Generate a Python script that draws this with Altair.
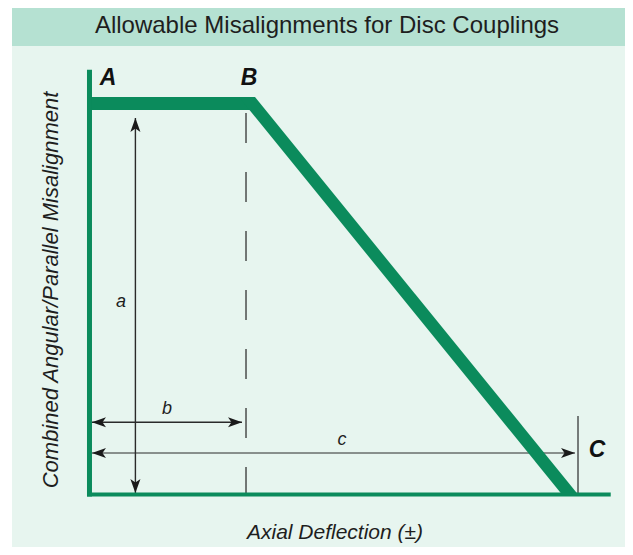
import altair as alt
import pandas as pd

# ---------------- data (diagram units: A = 0, C = 10 on x; base = 0, plateau = 10 on y)
TITLE = "Allowable Misalignments for Disc Couplings"
X_TITLE = "Axial Deflection (±)"
Y_TITLE = "Combined Angular/Parallel Misalignment"

# axis lines
AXIS_X = [0.0]
AXIS_Y_RANGE = [-0.05, 10.86]
BASE_Y = [0.0]
BASE_X_RANGE = [-0.05, 10.67]

# allowable curve A-B (plateau) and B-C (diagonal band)
PLATEAU_X = [-0.05, 3.388]
PLATEAU_Y = [9.834, 10.166]
DIAG_Y = [0.0, 10.166]
DIAG_XL = [9.672, 3.06]
DIAG_XR = [10.0, 3.388]

# dashed line under B
DASH_X = [3.204]
DASH_Y = [9.757, 0.0]

# dimension lines: name, x, x2, y, y2
DIM_NAME = ["a", "b", "c", "C"]
DIM_X = [0.94, 0.051, 0.051, 10.0]
DIM_X2 = [0.94, 3.122, 9.939, 10.0]
DIM_Y = [9.63, 1.847, 1.061, 2.008]
DIM_Y2 = [0.038, 1.847, 1.061, 0.0]
DIM_W = [1.4, 1.4, 1.0, 1.2]

# arrow heads: tip position and direction (deg, clockwise from up)
HEAD_X = [0.94, 0.94, 0.051, 3.122, 0.051, 9.939]
HEAD_Y = [9.63, 0.038, 1.847, 1.847, 1.061, 1.061]
HEAD_ANG = [0, 180, 270, 90, 270, 90]

# point labels
PT_LABEL = ["A", "B", "C"]
PT_X = [0.379, 3.265, 10.39]
PT_Y = [10.65, 10.65, 1.138]

DIM_LABEL = ["a", "b", "c"]
DL_X = [0.645, 1.586, 5.169]
DL_Y = [4.923, 2.187, 1.394]

X_DOMAIN = [-1.668, 10.962]
Y_DOMAIN = [-1.343, 12.442]

W, H = 617, 539
GREEN = "#0b8b5c"
BODY = "#e7f5ef"
BAR = "#b5e1d2"
INK = "#1e1e1e"
FONT = "Liberation Sans"

xs = alt.Scale(domain=X_DOMAIN, nice=False, zero=False)
ys = alt.Scale(domain=Y_DOMAIN, nice=False, zero=False)
one = pd.DataFrame({"k": [0]})

body = alt.Chart(one).mark_rect(color=BODY).encode(
    x=alt.value(4), x2=alt.value(W), y=alt.value(38), y2=alt.value(H))
bar = alt.Chart(one).mark_rect(color=BAR).encode(
    x=alt.value(4), x2=alt.value(W), y=alt.value(0), y2=alt.value(38))
title = alt.Chart(one).mark_text(
    text=TITLE, font=FONT, fontSize=24, color=INK, baseline="middle", align="center"
).encode(x=alt.value(319), y=alt.value(18))

ytitle = alt.Chart(one).mark_text(
    text=Y_TITLE, font=FONT, fontSize=22, fontStyle="italic", color=INK,
    baseline="middle", align="center", angle=270
).encode(x=alt.value(43), y=alt.value(282))
xtitle = alt.Chart(one).mark_text(
    text=X_TITLE, font=FONT, fontSize=21, fontStyle="italic", color=INK,
    baseline="middle", align="center"
).encode(x=alt.value(327), y=alt.value(525))

left_axis = alt.Chart(pd.DataFrame({"x": AXIS_X, "y": [AXIS_Y_RANGE[0]], "y2": [AXIS_Y_RANGE[1]]})).mark_rule(
    color=GREEN, strokeWidth=5, strokeCap="butt"
).encode(x=alt.X("x:Q", scale=xs, axis=None), y=alt.Y("y:Q", scale=ys, axis=None), y2="y2:Q")

base_axis = alt.Chart(pd.DataFrame({"y": BASE_Y, "x": [BASE_X_RANGE[0]], "x2": [BASE_X_RANGE[1]]})).mark_rule(
    color=GREEN, strokeWidth=4, strokeCap="butt"
).encode(x=alt.X("x:Q", scale=xs, axis=None), x2="x2:Q", y=alt.Y("y:Q", scale=ys, axis=None))

plateau = alt.Chart(pd.DataFrame({"x": [PLATEAU_X[0]], "x2": [PLATEAU_X[1]],
                                  "y": [PLATEAU_Y[0]], "y2": [PLATEAU_Y[1]]})).mark_rect(color=GREEN).encode(
    x=alt.X("x:Q", scale=xs, axis=None), x2="x2:Q",
    y=alt.Y("y:Q", scale=ys, axis=None), y2="y2:Q")

diag = alt.Chart(pd.DataFrame({"y": DIAG_Y, "xl": DIAG_XL, "xr": DIAG_XR})).mark_area(
    color=GREEN, orient="horizontal", opacity=1
).encode(x=alt.X("xl:Q", scale=xs, axis=None), x2="xr:Q",
         y=alt.Y("y:Q", scale=ys, axis=None))

dash = alt.Chart(pd.DataFrame({"x": DASH_X, "y": [DASH_Y[0]], "y2": [DASH_Y[1]]})).mark_rule(
    color="#333333", strokeWidth=1.3, strokeDash=[30, 29], strokeCap="butt"
).encode(x=alt.X("x:Q", scale=xs, axis=None), y=alt.Y("y:Q", scale=ys, axis=None), y2="y2:Q")

dims = alt.Chart(pd.DataFrame({"n": DIM_NAME, "x": DIM_X, "x2": DIM_X2,
                               "y": DIM_Y, "y2": DIM_Y2, "w": DIM_W})).mark_rule(
    color="#2a2a2a"
).encode(x=alt.X("x:Q", scale=xs, axis=None), x2="x2:Q",
         y=alt.Y("y:Q", scale=ys, axis=None), y2="y2:Q",
         strokeWidth=alt.StrokeWidth("w:Q", scale=None))

ARROW = "M0,0 L0.72,2 L0,1.5 L-0.72,2 Z"
heads = alt.Chart(pd.DataFrame({"x": HEAD_X, "y": HEAD_Y, "a": HEAD_ANG})).mark_point(
    shape=ARROW, filled=True, size=196, color="#1a1a1a", opacity=1, strokeWidth=0
).encode(x=alt.X("x:Q", scale=xs, axis=None), y=alt.Y("y:Q", scale=ys, axis=None),
         angle=alt.Angle("a:Q", scale=None))

pts = alt.Chart(pd.DataFrame({"t": PT_LABEL, "x": PT_X, "y": PT_Y})).mark_text(
    font=FONT, fontSize=23, fontStyle="italic", fontWeight="bold", color="#111111",
    baseline="middle", align="center"
).encode(x=alt.X("x:Q", scale=xs, axis=None), y=alt.Y("y:Q", scale=ys, axis=None), text="t:N")

dlabels = alt.Chart(pd.DataFrame({"t": DIM_LABEL, "x": DL_X, "y": DL_Y})).mark_text(
    font=FONT, fontSize=18, fontStyle="italic", color=INK, baseline="middle", align="center"
).encode(x=alt.X("x:Q", scale=xs, axis=None), y=alt.Y("y:Q", scale=ys, axis=None), text="t:N")

chart = alt.layer(
    body, bar, title, ytitle, xtitle,
    dash, dims, heads, plateau, diag, left_axis, base_axis, pts, dlabels
).properties(
    width=W, height=H, padding=0, autosize=alt.AutoSizeParams(type="none"),
    background="white"
).configure_view(stroke=None)

chart.save("out.html", embed_options={"renderer": "svg", "actions": False})
